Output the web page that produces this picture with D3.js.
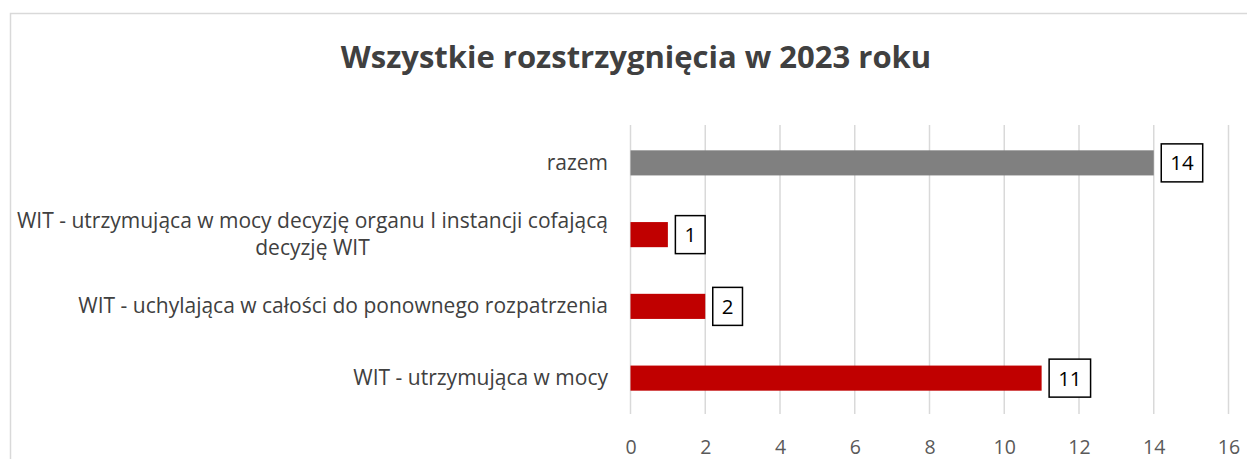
<!DOCTYPE html>
<meta charset="utf-8">
<head>
<style>
  body { margin: 0; background: #fff; }
  svg text { font-family: "Open Sans", Lato, sans-serif; }
</style>
</head>
<body>
<script src="https://cdn.jsdelivr.net/npm/d3@7"></script>
<script>
var categories = [
  ["razem"],
  ["WIT - utrzymująca w mocy decyzję organu I instancji cofającą", "decyzję WIT"],
  ["WIT - uchylająca w całości do ponownego rozpatrzenia"],
  ["WIT - utrzymująca w mocy"]
];
var values = [14, 1, 2, 11];
var colors = ["#808080", "#c00000", "#c00000", "#c00000"];
var ticks = [0, 2, 4, 6, 8, 10, 12, 14, 16];

var w = 1247, h = 459;
var svg = d3.select("body").append("svg").attr("width", w).attr("height", h);

// chart border (only left and top visible)
svg.append("path").attr("d", "M10.5," + h + "V13.5H" + w)
  .attr("fill", "none").attr("stroke", "#d9d9d9").attr("stroke-width", 1.5);

svg.append("text").text("Wszystkie rozstrzygnięcia w 2023 roku")
  .attr("x", 636).attr("y", 68).attr("text-anchor", "middle")
  .attr("font-size", 31).attr("font-weight", "bold").attr("fill", "#404040");

var x = d3.scaleLinear().domain([0, 16]).range([630.5, 1228.5]);
var y = d3.scaleBand().domain(d3.range(categories.length)).range([127, 414]).paddingInner(0.65).paddingOuter(0.325);

// gridlines
svg.append("g").selectAll("line").data(ticks).enter().append("line")
  .attr("x1", d => x(d)).attr("x2", d => x(d))
  .attr("y1", 125).attr("y2", 414)
  .attr("stroke", "#d9d9d9").attr("stroke-width", 1.5);

// tick labels
var axis = d3.axisBottom(x).tickValues(ticks).tickSize(0).tickPadding(0);
var ax = svg.append("g").attr("transform", "translate(0,454)").call(axis);
ax.select(".domain").remove();
ax.selectAll("text").attr("dy", 0).attr("font-size", 19.5).attr("fill", "#595959")
  .attr("font-family", "'Open Sans', Lato, sans-serif");

// bars
svg.append("g").selectAll("rect").data(values).enter().append("rect")
  .attr("x", x(0)).attr("y", (d, i) => y(i))
  .attr("width", d => x(d) - x(0)).attr("height", y.bandwidth())
  .attr("fill", (d, i) => colors[i]);

// category labels
categories.forEach(function(lines, i) {
  var cy = y(i) + y.bandwidth() / 2;
  var g = svg.append("g");
  var n = lines.length;
  var txt = lines.map(function(l, j) {
    return g.append("text").text(l)
      .attr("y", cy + (j - (n - 1) / 2) * 27.5 + 7)
      .attr("font-size", 21).attr("fill", "#404040");
  });
  if (n === 1) {
    txt[0].attr("x", 608).attr("text-anchor", "end");
  } else {
    var maxW = d3.max(txt, t => t.node().getComputedTextLength());
    txt.forEach(t => t.attr("x", 608 - maxW / 2).attr("text-anchor", "middle"));
  }
});

// data labels with boxes
values.forEach(function(v, i) {
  var cy = y(i) + y.bandwidth() / 2;
  var g = svg.append("g");
  var t = g.append("text").text(v).attr("font-size", 20.5).attr("fill", "#000")
    .attr("text-anchor", "middle").attr("y", cy + 7.5);
  var tw = t.node().getComputedTextLength();
  var bw = tw + 18;
  var bx = x(v) + 7.5;
  t.attr("x", bx + bw / 2);
  g.insert("rect", "text").attr("x", bx).attr("y", cy - 19)
    .attr("width", bw).attr("height", 38)
    .attr("fill", "#fff").attr("stroke", "#000").attr("stroke-width", 1.5);
});
</script>
</body>
